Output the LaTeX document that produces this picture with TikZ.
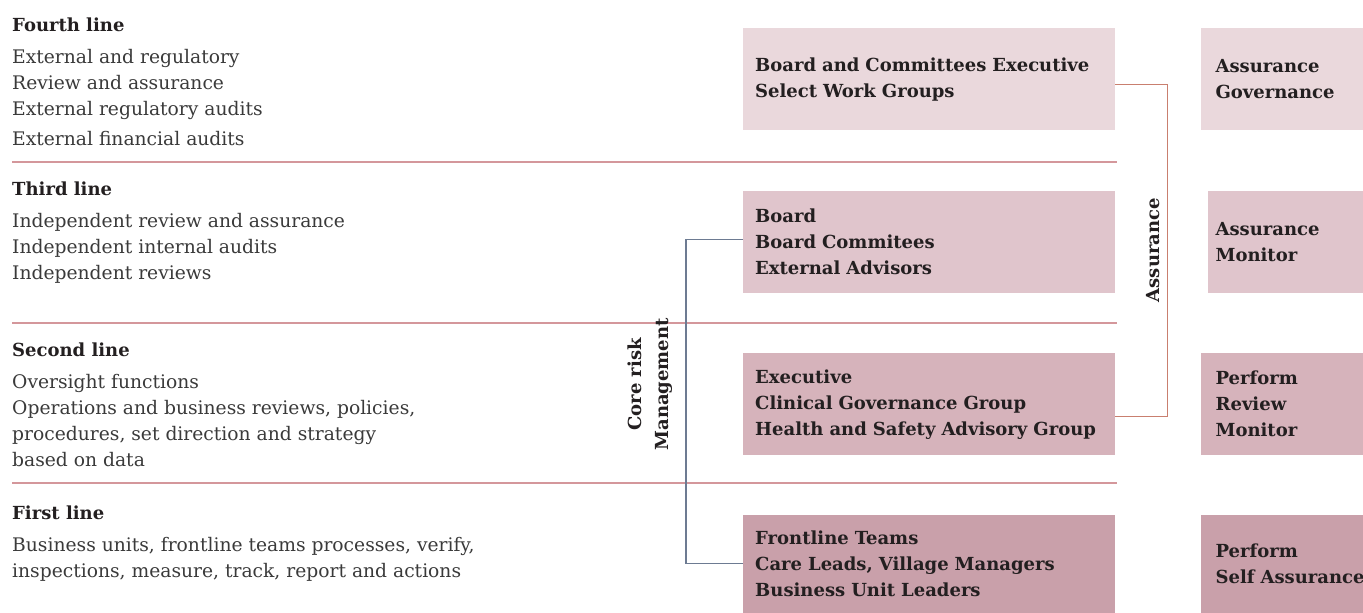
\documentclass[tikz,border=0pt]{standalone}
\usepackage{fontspec}
\setmainfont{DejaVu Serif}
\usepackage{tikz}
\newcommand{\lHeadFour}{Fourth line}
\newcommand{\lBodyFour}{External and regulatory\\Review and assurance\\External regulatory audits\\[4pt]External financial audits}
\newcommand{\lHeadThree}{Third line}
\newcommand{\lBodyThree}{Independent review and assurance\\Independent internal audits\\Independent reviews}
\newcommand{\lHeadTwo}{Second line}
\newcommand{\lBodyTwo}{Oversight functions\\Operations and business reviews, policies,\\procedures, set direction and strategy\\based on data}
\newcommand{\lHeadOne}{First line}
\newcommand{\lBodyOne}{Business units, frontline teams processes, verify,\\inspections, measure, track, report and actions}
\newcommand{\lBoxBoardExec}{Board and Committees Executive\\Select Work Groups}
\newcommand{\lBoxBoard}{Board\\Board Commitees\\External Advisors}
\newcommand{\lBoxExecutive}{Executive\\Clinical Governance Group\\Health and Safety Advisory Group}
\newcommand{\lBoxFrontline}{Frontline Teams\\Care Leads, Village Managers\\Business Unit Leaders}
\newcommand{\lRoleGov}{Assurance\\Governance}
\newcommand{\lRoleMonitor}{Assurance\\Monitor}
\newcommand{\lRoleReview}{Perform\\Review\\Monitor}
\newcommand{\lRoleSelf}{Perform\\\mbox{Self Assurance}}
\newcommand{\lAssurance}{Assurance}
\newcommand{\lCoreRisk}{Core risk\\Management}
\usetikzlibrary{positioning, calc}
\definecolor{rowFour}{HTML}{EAD8DC}
\definecolor{rowThree}{HTML}{E0C5CC}
\definecolor{rowTwo}{HTML}{D6B3BB}
\definecolor{rowOne}{HTML}{C9A0AA}
\definecolor{sepRose}{HTML}{D4979B}
\definecolor{assureRed}{HTML}{C97F6F}
\definecolor{coreSlate}{HTML}{6D7B92}
\definecolor{inkDark}{HTML}{231F20}
\definecolor{inkBody}{HTML}{3A3A3A}

\begin{document}
\begin{tikzpicture} [
        x=1pt, y=-1pt,
        line head/.style={anchor=base west, inner sep=0, font=\bfseries\fontsize{18}{26}\selectfont, text=inkDark},
        line body/.style={anchor=north west, inner sep=0, align=left, font=\fontsize{18.7}{26}\selectfont, text=inkBody},
        line sep/.style={draw=sepRose, line width=1.1pt},
        group box/.style={anchor=north west, minimum height=102pt, text width=348pt, inner xsep=12pt, inner ysep=0, align=left, font=\bfseries\fontsize{18}{26}\selectfont, text=inkDark},
        role box/.style={group box, text width=133pt, inner xsep=15pt},
        label flow/.style={rotate=90, align=center, anchor=south, font=\bfseries\fontsize{18}{27}\selectfont, text=inkDark},
        link assure/.style={draw=assureRed, line width=1.1pt},
        link core/.style={draw=coreSlate, line width=1.1pt}
    ]

    \useasboundingbox (0,0) rectangle (1363,613);

    % left column
    \path (12,31) node[line head] (head four) {\lHeadFour};
    \path (head four.base west) ++(0,18) node[line body] (body four) {\lBodyFour};
    \path (12,195) node[line head] (head three) {\lHeadThree};
    \path (head three.base west) ++(0,18) node[line body] (body three) {\lBodyThree};
    \path (12,356) node[line head] (head two) {\lHeadTwo};
    \path (head two.base west) ++(0,18) node[line body] (body two) {\lBodyTwo};
    \path (12,519) node[line head] (head one) {\lHeadOne};
    \path (head one.base west) ++(0,18) node[line body] (body one) {\lBodyOne};

    \draw[line sep] (12,162) -- (1117,162);
    \draw[line sep] (12,323) -- (1117,323);
    \draw[line sep] (12,483) -- (1117,483);

    % groups
    \path (743,28) node[group box, fill=rowFour] (board exec) {\lBoxBoardExec};
    \path (743,191) node[group box, fill=rowThree] (board) {\lBoxBoard};
    \path (743,353) node[group box, fill=rowTwo] (executive) {\lBoxExecutive};
    \path (743,515) node[group box, fill=rowOne, minimum height=98pt] (frontline) {\lBoxFrontline};

    % roles
    \path (board exec.north east) ++(85,0) node[role box, fill=rowFour] (role gov) {\lRoleGov};
    \path (board.north east) ++(92,0) node[role box, fill=rowThree, inner xsep=8pt, text width=140pt] (role monitor) {\lRoleMonitor};
    \path (executive.north east) ++(85,0) node[role box, fill=rowTwo] (role review) {\lRoleReview};
    \path (frontline.north east) ++(85,0) node[role box, fill=rowOne, minimum height=98pt] (role self) {\lRoleSelf};

    % connectors
    \draw[link assure] ([yshift=-5pt]board exec.east) -- ++(52,0) |- ([yshift=-12pt]executive.east)
        node[pos=0.25, label flow, inner sep=7pt] (assure label) {\lAssurance};
    \draw[link core] ([yshift=3pt]board.west) -- ++(-57,0) |- ([yshift=1pt]frontline.west)
        node[pos=0.224, label flow, inner sep=13pt] (core label) {\lCoreRisk};

    \end{tikzpicture}
\end{document}
